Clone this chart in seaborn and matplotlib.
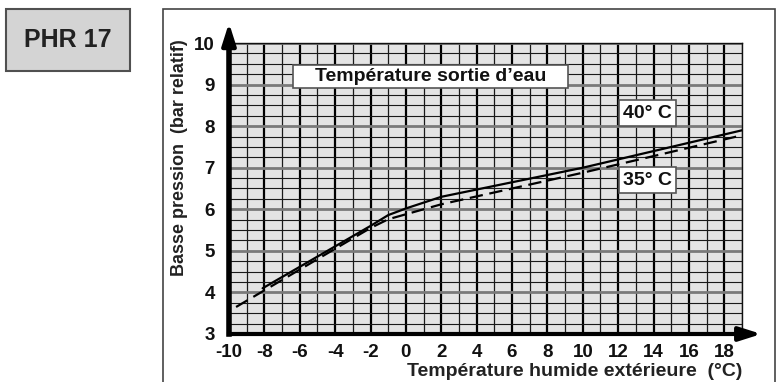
import matplotlib
matplotlib.use("Agg")
import matplotlib.pyplot as plt
from matplotlib.patches import Rectangle
import numpy as np
import pandas as pd
import seaborn as sns

# ---- data ----
x_40 = [-8.1, -2.0, -1.0, 0.0, 2.0, 10.0, 19.0]
y_40 = [4.10, 5.60, 5.86, 6.02, 6.30, 7.00, 7.90]
x_35 = [-9.6, -2.0, -1.0, 0.0, 2.0, 10.0, 19.0]
y_35 = [3.65, 5.55, 5.76, 5.88, 6.12, 6.88, 7.78]
series_labels = ["40° C", "35° C"]
x_ticks = list(range(-10, 19, 2))
y_ticks = list(range(3, 11))
title_box = "PHR 17"
legend_title = "Température sortie d\u2019eau"
x_label = "Température humide extérieure  (°C)"
y_label = "Basse pression  (bar relatif)"

df = pd.concat([
    pd.DataFrame({"x": x_40, "y": y_40, "serie": series_labels[0]}),
    pd.DataFrame({"x": x_35, "y": y_35, "serie": series_labels[1]}),
])

sns.set_theme(style="white")
plt.rcParams["font.family"] = ["Liberation Sans", "DejaVu Sans"]
plt.rcParams["font.weight"] = "bold"

W, H = 776, 382
fig = plt.figure(figsize=(W / 100, H / 100), dpi=100)
fig.patch.set_facecolor("white")

def fx(px):
    return px / W

def fy(py):
    return 1 - py / H

# outer panel frame
fig.patches.append(Rectangle((fx(163), fy(395)), fx(775) - fx(163), fy(9) - fy(395),
                             transform=fig.transFigure, fill=False, edgecolor="#444444",
                             linewidth=1.2, zorder=0))
# PHR box
fig.patches.append(Rectangle((fx(6), fy(71)), fx(130) - fx(6), fy(9) - fy(71),
                             transform=fig.transFigure, facecolor="#d4d4d4", edgecolor="#505050",
                             linewidth=1.5, zorder=1))
fig.text(fx(68), fy(40), title_box, ha="center", va="center", fontsize=18,
         fontweight="bold", color="#222222")

ax = fig.add_axes([fx(229), fy(334), fx(742) - fx(229), fy(43) - fy(334)])
ax.set_facecolor("#e4e4e4")
ax.set_xlim(-10, 19)
ax.set_ylim(3, 10)

ax.set_xticks(x_ticks)
ax.set_xticks(np.arange(-10, 20, 1), minor=True)
ax.set_yticks(y_ticks)
ax.set_yticks(np.arange(3, 10.01, 0.25), minor=True)
ax.set_xticklabels([str(v) for v in x_ticks], fontsize=13.5, fontweight="bold", color="#111111")
ax.set_yticklabels([str(v) for v in y_ticks], fontsize=13.5, fontweight="bold", color="#111111")
ax.tick_params(axis="both", which="both", length=0)
ax.tick_params(axis="x", pad=7)
ax.tick_params(axis="y", pad=10)

ax.set_axisbelow(True)
ax.grid(axis="y", which="minor", color="#1a1a1a", linewidth=0.8)
ax.grid(axis="y", which="major", color="#7a7a7a", linewidth=2.0)
ax.grid(axis="x", which="minor", color="#1a1a1a", linewidth=0.9)
ax.grid(axis="x", which="major", color="#000000", linewidth=1.6)

for s in ["top", "right"]:
    ax.spines[s].set_color("#111111")
    ax.spines[s].set_linewidth(1.0)
ax.spines["left"].set_color("black")
ax.spines["left"].set_linewidth(4)
ax.spines["bottom"].set_color("black")
ax.spines["bottom"].set_linewidth(3)

sns.lineplot(data=df, x="x", y="y", hue="serie", style="serie",
             palette=["black", "black"], dashes={series_labels[0]: "", series_labels[1]: (6, 3)},
             linewidth=1.6, legend=False, ax=ax, sort=False, zorder=5)

ax.set_xlabel("")
ax.set_ylabel("")

# arrows
ax.annotate("", xy=(-10, 10.55), xytext=(-10, 9.9), xycoords="data",
            arrowprops=dict(arrowstyle="-|>,head_length=1.1,head_width=0.35", color="black", lw=3),
            annotation_clip=False)
ax.annotate("", xy=(20.25, 3), xytext=(18.9, 3), xycoords="data",
            arrowprops=dict(arrowstyle="-|>,head_length=1.1,head_width=0.35", color="black", lw=3),
            annotation_clip=False)

# title box inside the plot
fig.patches.append(Rectangle((fx(293), fy(88)), fx(568) - fx(293), fy(65) - fy(88),
                             transform=fig.transFigure, facecolor="white", edgecolor="#555555",
                             linewidth=1.2, zorder=3))
fig.text(fx(430.5), fy(76.5), legend_title, ha="center", va="center", fontsize=14,
         fontweight="bold", color="#111111", zorder=4)

box_kw = dict(boxstyle="square,pad=0.22", facecolor="white", edgecolor="#555555", linewidth=1.2)
ax.text(13.67, 8.31, series_labels[0], ha="center", va="center", fontsize=14,
        fontweight="bold", color="#111111", bbox=box_kw, zorder=6)
ax.text(13.67, 6.70, series_labels[1], ha="center", va="center", fontsize=14,
        fontweight="bold", color="#111111", bbox=box_kw, zorder=6)

fig.text(fx(742), fy(372), x_label, ha="right", va="center", fontsize=14,
         fontweight="bold", color="#222222")
fig.text(fx(180), fy(158), y_label, ha="center", va="center", rotation=90, fontsize=13,
         fontweight="bold", color="#222222")

fig.savefig("out.png", dpi=100)
